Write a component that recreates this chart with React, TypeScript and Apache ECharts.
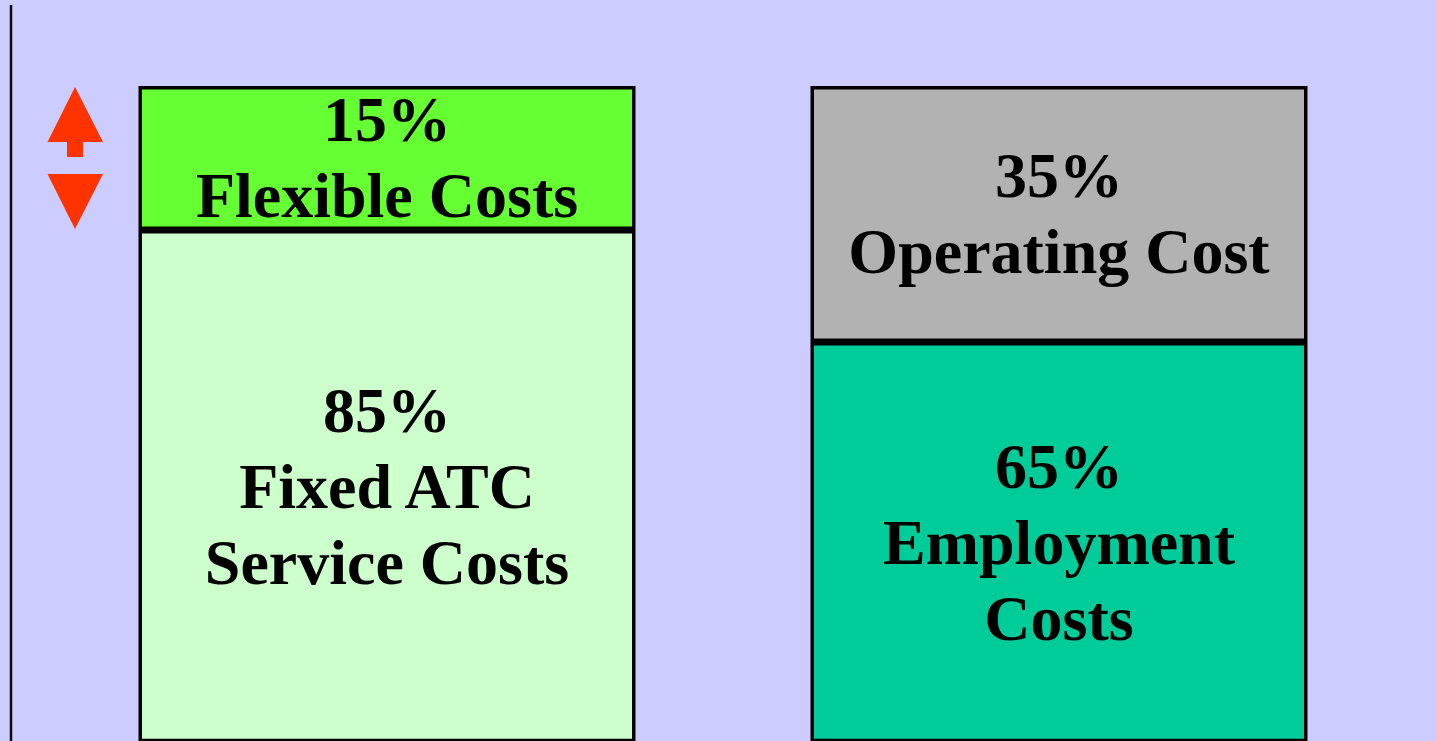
import React, { useEffect, useRef } from "react";
import * as echarts from "echarts";

// Left column: ATC cost split
const leftNames = ["Flexible Costs", "Fixed ATC\nService Costs"];
const leftValues = [15, 85];
const leftColors = ["#66FF33", "#CCFFCC"];

// Right column: cost type split
const rightNames = ["Operating Cost", "Employment\nCosts"];
const rightValues = [35, 65];
const rightColors = ["#B2B2B2", "#00CC99"];

// Display scale of each (schematic) column axis
const leftAxisMax = 68.2;
const rightAxisMax = 89.5;

export default function App() {
  const ref = useRef<HTMLDivElement>(null);

  useEffect(() => {
    document.body.style.margin = "0";
    const chart = echarts.init(ref.current!, undefined, { renderer: "svg" });

    const labelStyle = {
      show: true,
      position: "inside" as const,
      fontFamily: "'Liberation Serif', 'Times New Roman', serif",
      fontWeight: "bold" as const,
      fontSize: 64,
      lineHeight: 76,
      color: "#000",
      align: "center" as const,
    };

    const makeSeries = (
      names: string[],
      values: number[],
      colors: string[],
      idx: number,
      stack: string
    ) =>
      names.map((n, i) => ({
        type: "bar",
        name: n,
        stack,
        xAxisIndex: idx,
        yAxisIndex: idx,
        barWidth: "100%",
        clip: true,
        data: [values[i]],
        itemStyle: { color: colors[i], borderColor: "#000", borderWidth: 3.5 },
        label: {
          ...labelStyle,
          formatter: () => `${values[i]}%\n${n}`,
        },
      }));

    chart.setOption({
      animation: false,
      backgroundColor: "#CCCCFF",
      grid: [
        { left: 138.5, top: 86, width: 497, bottom: 0.5 },
        { left: 810.5, top: 86, width: 497, bottom: 0.5 },
      ],
      xAxis: [0, 1].map((i) => ({
        type: "category",
        gridIndex: i,
        data: [""],
        show: false,
      })),
      yAxis: [leftAxisMax, rightAxisMax].map((m, i) => ({
        type: "value",
        gridIndex: i,
        inverse: true,
        min: 0,
        max: m,
        show: false,
      })),
      series: [
        ...makeSeries(leftNames, leftValues, leftColors, 0, "left"),
        ...makeSeries(rightNames, rightValues, rightColors, 1, "right"),
      ],
      graphic: [
        {
          type: "line",
          shape: { x1: 11, y1: 5, x2: 11, y2: 741 },
          style: { stroke: "#0a0a14", lineWidth: 2.5 },
        },
        {
          type: "polygon",
          shape: {
            points: [
              [75, 87],
              [103, 142],
              [83, 142],
              [83, 157],
              [67, 157],
              [67, 142],
              [47.5, 142],
            ],
          },
          style: { fill: "#FF3300" },
        },
        {
          type: "polygon",
          shape: {
            points: [
              [47.5, 174],
              [103, 174],
              [75, 229],
            ],
          },
          style: { fill: "#FF3300" },
        },
      ],
    });

    return () => chart.dispose();
  }, []);

  return (
    <div
      ref={ref}
      style={{ position: "fixed", left: 0, top: 0, width: 1437, height: 741 }}
    />
  );
}
